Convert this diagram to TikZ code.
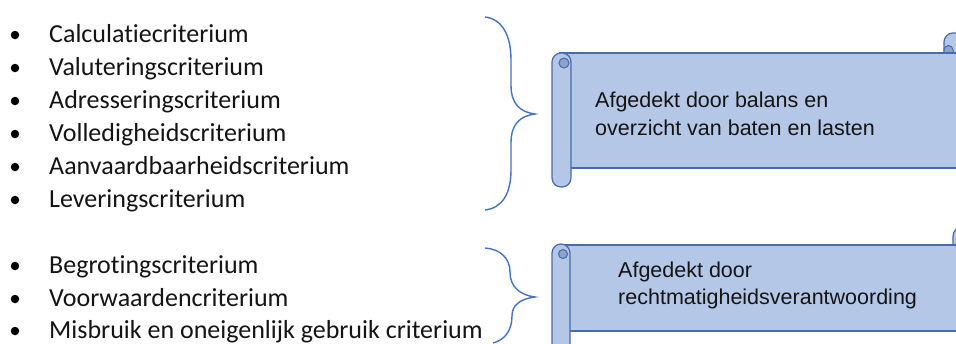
\documentclass[tikz,border=0pt]{standalone}
\usepackage{fontspec}
\setmainfont{Carlito}[Ligatures=NoCommon]
\newfontfamily\arialf{Liberation Sans}
\definecolor{scrollfill}{RGB}{180,199,231}
\definecolor{scrollline}{RGB}{71,107,170}
\definecolor{curlfill}{RGB}{140,163,204}
\definecolor{bracecol}{RGB}{68,114,196}
\definecolor{txt}{RGB}{20,20,20}
\begin{document}
\begin{tikzpicture}[x=1pt,y=-1pt,
  item/.style={anchor=base west, inner sep=0pt, font=\fontsize{26}{31}\selectfont, text=txt},
  bul/.style={fill=black, circle, inner sep=0pt, minimum size=8.5pt},
  boxtext/.style={anchor=base west, inner sep=0pt, font=\arialf\fontsize{21.5}{28}\selectfont, text=txt},
  scroll/.style={fill=scrollfill, draw=scrollline, line width=1.2pt},
  curl/.style={fill=curlfill, draw=scrollline, line width=1pt},
  brace/.style={draw=bracecol, line width=1.4pt}]
\useasboundingbox (0,0) rectangle (956,343);
\clip (0,0) rectangle (956,343);
\fill[white] (0,0) rectangle (956,343);

% list items
\foreach \t/\y [count=\i] in {Calculatiecriterium/42, Valuteringscriterium/75, Adresseringscriterium/108, Volledigheidscriterium/141, Aanvaardbaarheidscriterium/174, Leveringscriterium/207, Begrotingscriterium/273, Voorwaardencriterium/306, Misbruik en oneigenlijk gebruik criterium/338}{
  \node[bul] (b\i) at (15,\y-7) {};
  \node[item] (i\i) at (49,\y) {\t};
}

% braces
\draw[brace] (485,17) .. controls (502,19) and (511,35) .. (511,60)
  -- (511,85) .. controls (511,104) and (520,112) .. (535,114)
  .. controls (520,116) and (511,124) .. (511,143)
  -- (511,170) .. controls (511,194) and (502,208) .. (485,210);
\draw[brace] (485,248) .. controls (500,249) and (510,258) .. (510,272)
  .. controls (510,287) and (520,295) .. (535,297)
  .. controls (520,299) and (512,305) .. (512,316)
  .. controls (512,330) and (505,340) .. (493,343);

% top scroll
\draw[scroll, rounded corners=9pt] (944,33) rectangle (990,64);
\draw[curl] (944,53) -- (944,50) arc[start angle=180, end angle=360, radius=4.5] -- (953,53);
\draw[scroll] (560,53) rectangle (990,168);
\draw[scroll, rounded corners=9pt] (552,53) rectangle (571,187);
\draw[curl] (564,63) circle (5);
\node[boxtext] (t1a) at (595,107) {Afgedekt door balans en};
\node[boxtext] (t1b) at (595,135) {overzicht van baten en lasten};

% bottom scroll
\draw[scroll, rounded corners=9pt] (953,227) rectangle (990,258);
\draw[scroll] (560,245) rectangle (990,331);
\draw[scroll, rounded corners=9pt] (552,244) rectangle (570,370);
\draw[curl] (563,254) circle (4.5);
\node[boxtext] (t2a) at (618,277) {Afgedekt door};
\node[boxtext] (t2b) at (618,304) {rechtmatigheidsverantwoording};
\end{tikzpicture}
\end{document}
